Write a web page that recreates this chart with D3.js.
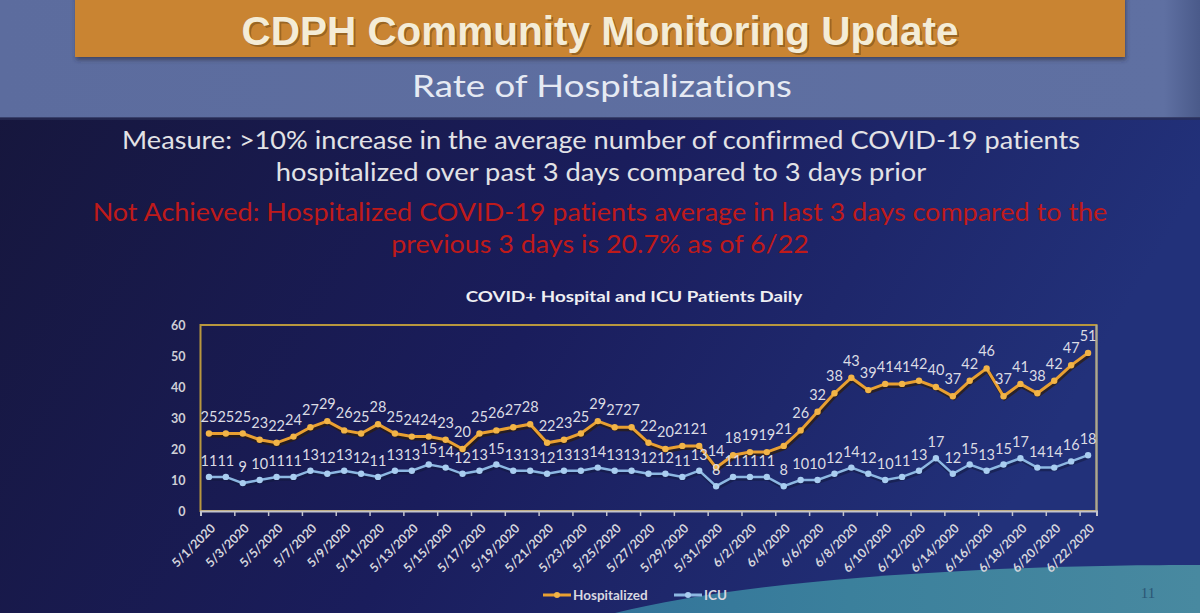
<!DOCTYPE html>
<html>
<head>
<meta charset="utf-8">
<script src="https://cdn.jsdelivr.net/npm/d3@7"></script>
<style>
  html, body { margin: 0; padding: 0; background: #15173a; }
  svg { display: block; }
  text { font-variant-ligatures: none; }
</style>
</head>
<body>
<svg id="chart" width="1200" height="613"></svg>
<script>
// ---------- DATA ----------
const categories = [
  "5/1/2020","5/2/2020","5/3/2020","5/4/2020","5/5/2020","5/6/2020","5/7/2020","5/8/2020","5/9/2020","5/10/2020",
  "5/11/2020","5/12/2020","5/13/2020","5/14/2020","5/15/2020","5/16/2020","5/17/2020","5/18/2020","5/19/2020","5/20/2020",
  "5/21/2020","5/22/2020","5/23/2020","5/24/2020","5/25/2020","5/26/2020","5/27/2020","5/28/2020","5/29/2020","5/30/2020",
  "5/31/2020","6/1/2020","6/2/2020","6/3/2020","6/4/2020","6/5/2020","6/6/2020","6/7/2020","6/8/2020","6/9/2020",
  "6/10/2020","6/11/2020","6/12/2020","6/13/2020","6/14/2020","6/15/2020","6/16/2020","6/17/2020","6/18/2020","6/19/2020",
  "6/20/2020","6/21/2020","6/22/2020"
];
const hospitalized = [25,25,25,23,22,24,27,29,26,25,28,25,24,24,23,20,25,26,27,28,22,23,25,29,27,27,22,20,21,21,14,18,19,19,21,26,32,38,43,39,41,41,42,40,37,42,46,37,41,38,42,47,51];
const icu = [11,11,9,10,11,11,13,12,13,12,11,13,13,15,14,12,13,15,13,13,12,13,13,14,13,13,12,12,11,13,8,11,11,11,8,10,10,12,14,12,10,11,13,17,12,15,13,15,17,14,14,16,18];
const yTicks = [0,10,20,30,40,50,60];
const seriesNames = ["Hospitalized","ICU"];

const slideTitle = "CDPH Community Monitoring Update";
const slideSubtitle = "Rate of Hospitalizations";
const measureLines = ["Measure: >10% increase in the average number of confirmed COVID-19 patients",
                      "hospitalized over past 3 days compared to 3 days prior"];
const statusLines = ["Not Achieved: Hospitalized COVID-19 patients average in last 3 days compared to the",
                     "previous 3 days is 20.7% as of 6/22"];
const chartTitle = "COVID+ Hospital and ICU Patients Daily";
const pageNumber = "11";

// ---------- DRAW ----------
const svg = d3.select("#chart");
const W = 1200, H = 613;
const defs = svg.append("defs");

const gDark = defs.append("linearGradient").attr("id","gDark").attr("x1","0").attr("y1","0").attr("x2","1").attr("y2","0.3");
gDark.append("stop").attr("offset","0").attr("stop-color","#16163a");
gDark.append("stop").attr("offset","0.55").attr("stop-color","#1a1d5c");
gDark.append("stop").attr("offset","1").attr("stop-color","#22317a");
const gTop = defs.append("linearGradient").attr("id","gTop").attr("x1","0").attr("y1","0").attr("x2","1").attr("y2","0");
gTop.append("stop").attr("offset","0").attr("stop-color","#5c6c9e");
gTop.append("stop").attr("offset","0.97").attr("stop-color","#5f70a2");
gTop.append("stop").attr("offset","1").attr("stop-color","#4a5a8a");
const gTeal = defs.append("linearGradient").attr("id","gTeal").attr("x1","0").attr("y1","0").attr("x2","1").attr("y2","0");
gTeal.append("stop").attr("offset","0").attr("stop-color","#33749a");
gTeal.append("stop").attr("offset","0.4").attr("stop-color","#3b809c");
gTeal.append("stop").attr("offset","1").attr("stop-color","#4889a0");

svg.append("rect").attr("x",0).attr("y",0).attr("width",W).attr("height",H).attr("fill","url(#gDark)");
svg.append("rect").attr("x",0).attr("y",0).attr("width",W).attr("height",118).attr("fill","url(#gTop)");
svg.append("rect").attr("x",0).attr("y",117).attr("width",W).attr("height",3).attr("fill","#2a2d55").attr("opacity",0.7);
svg.append("path")
  .attr("d","M615,613 C700,592 820,578 980,570 C1060,566 1140,565 1200,565 L1200,613 Z")
  .attr("fill","url(#gTeal)");

const fShadow = defs.append("filter").attr("id","shadow").attr("x","-5%").attr("y","-20%").attr("width","110%").attr("height","150%");
fShadow.append("feDropShadow").attr("dx",1).attr("dy",3).attr("stdDeviation",2).attr("flood-color","#2a2a40").attr("flood-opacity",0.6);
svg.append("rect").attr("x",75).attr("y",-5).attr("width",1050).attr("height",62)
  .attr("fill","#c98430").attr("filter","url(#shadow)");

function fitWidth(sel, target) {
  const fs = parseFloat(sel.attr("font-size"));
  const w = sel.node().getComputedTextLength();
  if (w > 0) sel.attr("font-size", (fs * target / w).toFixed(2));
  return sel;
}
// condensed text: keep font size, squeeze horizontally to target width
function condensed(g, txt, cx, y, target, size, fill, weight) {
  const t = g.append("text").attr("x",0).attr("y",0).attr("text-anchor","middle")
    .attr("font-family",bodyFont).attr("font-size",size).attr("font-weight",weight || "normal")
    .attr("fill",fill).text(txt);
  const w = t.node().getComputedTextLength();
  const s = w > 0 ? target / w : 1;
  t.attr("transform",`translate(${cx},${y}) scale(${s.toFixed(4)},1)`);
  return t;
}

const titleFont = "'Liberation Sans', Arial, sans-serif";
const tShadow = svg.append("text").attr("x",602).attr("y",47).attr("text-anchor","middle")
  .attr("font-family",titleFont).attr("font-weight","bold").attr("font-size",40)
  .attr("fill","#6a4716").attr("opacity",0.5).text(slideTitle);
fitWidth(tShadow, 717);
const tMain = svg.append("text").attr("x",600).attr("y",45).attr("text-anchor","middle")
  .attr("font-family",titleFont).attr("font-weight","bold").attr("font-size",40)
  .attr("fill","#f4ecd6").text(slideTitle);
fitWidth(tMain, 717);

const bodyFont = "Lato, 'Open Sans', sans-serif";
condensed(svg, slideSubtitle, 602, 97, 380, 31, "#e6eaf3");

const mY = [149, 181];
const mW = [958, 651];
measureLines.forEach((t,i) => condensed(svg, t, 601, mY[i], mW[i], 25, "#e2e2e6"));
const sY = [221, 253];
const sW = [1015, 418];
statusLines.forEach((t,i) => condensed(svg, t, 600, sY[i], sW[i], 25, "#bf1a1a"));

condensed(svg, chartTitle, 634, 302, 337, 15, "#eeeef2", "bold");

// ---------- CHART ----------
const plot = {left: 200.5, right: 1096.5, top: 325, bottom: 511};
const x = d3.scaleBand().domain(categories).range([plot.left, plot.right]).padding(0);
const xIdx = d3.scaleLinear().domain([0, categories.length]).range([plot.left, plot.right]);
const y = d3.scaleLinear().domain([0, 60]).range([plot.bottom, plot.top]);
const cx = d => x(d) + x.bandwidth()/2;

svg.append("rect").attr("x",plot.left).attr("y",plot.top)
  .attr("width",plot.right-plot.left).attr("height",plot.bottom-plot.top)
  .attr("fill","none").attr("stroke","#b8973e").attr("stroke-width",2);
svg.append("line").attr("x1",plot.right).attr("x2",plot.right).attr("y1",plot.top).attr("y2",plot.bottom)
  .attr("stroke","#a8a89a").attr("stroke-width",2);

const yAxis = d3.axisLeft(y).tickValues(yTicks).tickSize(0).tickPadding(15);
const gy = svg.append("g").attr("transform",`translate(${plot.left},0)`).call(yAxis);
gy.select(".domain").remove();
gy.selectAll("text").attr("font-family",bodyFont).attr("font-weight","bold").attr("font-size",12.5).attr("fill","#cfcfd6");

const xTickAxis = d3.axisBottom(xIdx).tickValues(d3.range(0, categories.length + 1, 2)).tickSize(5).tickFormat("");
const gxt = svg.append("g").attr("transform",`translate(0,${plot.bottom})`).call(xTickAxis);
gxt.select(".domain").attr("stroke","#c4c4cc").attr("stroke-width",2);
gxt.selectAll(".tick line").attr("stroke","#c4c4cc").attr("stroke-width",1.5);

const xAxis = d3.axisBottom(x).tickValues(categories.filter((d,i) => i % 2 === 0)).tickSize(0);
const gx = svg.append("g").attr("transform",`translate(0,${plot.bottom})`).call(xAxis);
gx.select(".domain").remove();
gx.selectAll("text")
  .attr("font-family",bodyFont).attr("font-weight","bold").attr("font-size",12.5).attr("fill","#d4d4dc")
  .attr("text-anchor","end").attr("x",0).attr("y",0).attr("dy","0.35em")
  .attr("transform","translate(4,15) rotate(-45)");

const line = d3.line().x((d,i) => cx(categories[i])).y(d => y(d));
const hospColor = "#e9a032", icuColor = "#8db8e2";

svg.append("path").datum(hospitalized).attr("d",line).attr("fill","none")
  .attr("stroke","#2e1c0a").attr("stroke-width",4).attr("opacity",0.7).attr("transform","translate(1,2)");
svg.append("path").datum(icu).attr("d",line).attr("fill","none")
  .attr("stroke","#10183a").attr("stroke-width",3.5).attr("opacity",0.5).attr("transform","translate(1,2)");

svg.append("path").datum(icu).attr("d",line).attr("fill","none").attr("stroke",icuColor).attr("stroke-width",2.5);
svg.append("path").datum(hospitalized).attr("d",line).attr("fill","none").attr("stroke",hospColor).attr("stroke-width",3);

svg.append("g").selectAll("circle").data(icu).join("circle")
  .attr("cx",(d,i) => cx(categories[i])).attr("cy",d => y(d)).attr("r",3.2).attr("fill","#a9cdf0");
svg.append("g").selectAll("circle").data(hospitalized).join("circle")
  .attr("cx",(d,i) => cx(categories[i])).attr("cy",d => y(d)).attr("r",3.2).attr("fill","#f2b447");

const lblFont = "Lato, 'Open Sans', sans-serif";
svg.append("g").selectAll("text").data(icu).join("text")
  .attr("x",(d,i) => cx(categories[i])).attr("y",d => y(d) - 11)
  .attr("text-anchor","middle").attr("font-family",lblFont).attr("font-size",14.5)
  .attr("fill","#dcdce4").text(d => d);
svg.append("g").selectAll("text").data(hospitalized).join("text")
  .attr("x",(d,i) => cx(categories[i])).attr("y",d => y(d) - 12)
  .attr("text-anchor","middle").attr("font-family",lblFont).attr("font-size",14.5)
  .attr("fill","#dcdce4").text(d => d);

const legend = svg.append("g").attr("transform","translate(0,595)");
const legItems = [
  {name: seriesNames[0], color: hospColor, dot: "#f2b447", x0: 543},
  {name: seriesNames[1], color: icuColor, dot: "#a9cdf0", x0: 674}
];
legItems.forEach(it => {
  legend.append("line").attr("x1",it.x0).attr("x2",it.x0+28).attr("y1",0).attr("y2",0)
    .attr("stroke",it.color).attr("stroke-width",3);
  legend.append("circle").attr("cx",it.x0+14).attr("cy",0).attr("r",3).attr("fill",it.dot);
  legend.append("text").attr("x",it.x0+30).attr("y",0).attr("dy","0.35em")
    .attr("font-family",bodyFont).attr("font-weight","bold").attr("font-size",13.5).attr("fill","#d8d8e0").text(it.name);
});

svg.append("text").attr("x",1148).attr("y",598).attr("text-anchor","middle")
  .attr("font-family","'Liberation Serif', serif").attr("font-size",15).attr("fill","#2b5676").text(pageNumber);
</script>
</body>
</html>
